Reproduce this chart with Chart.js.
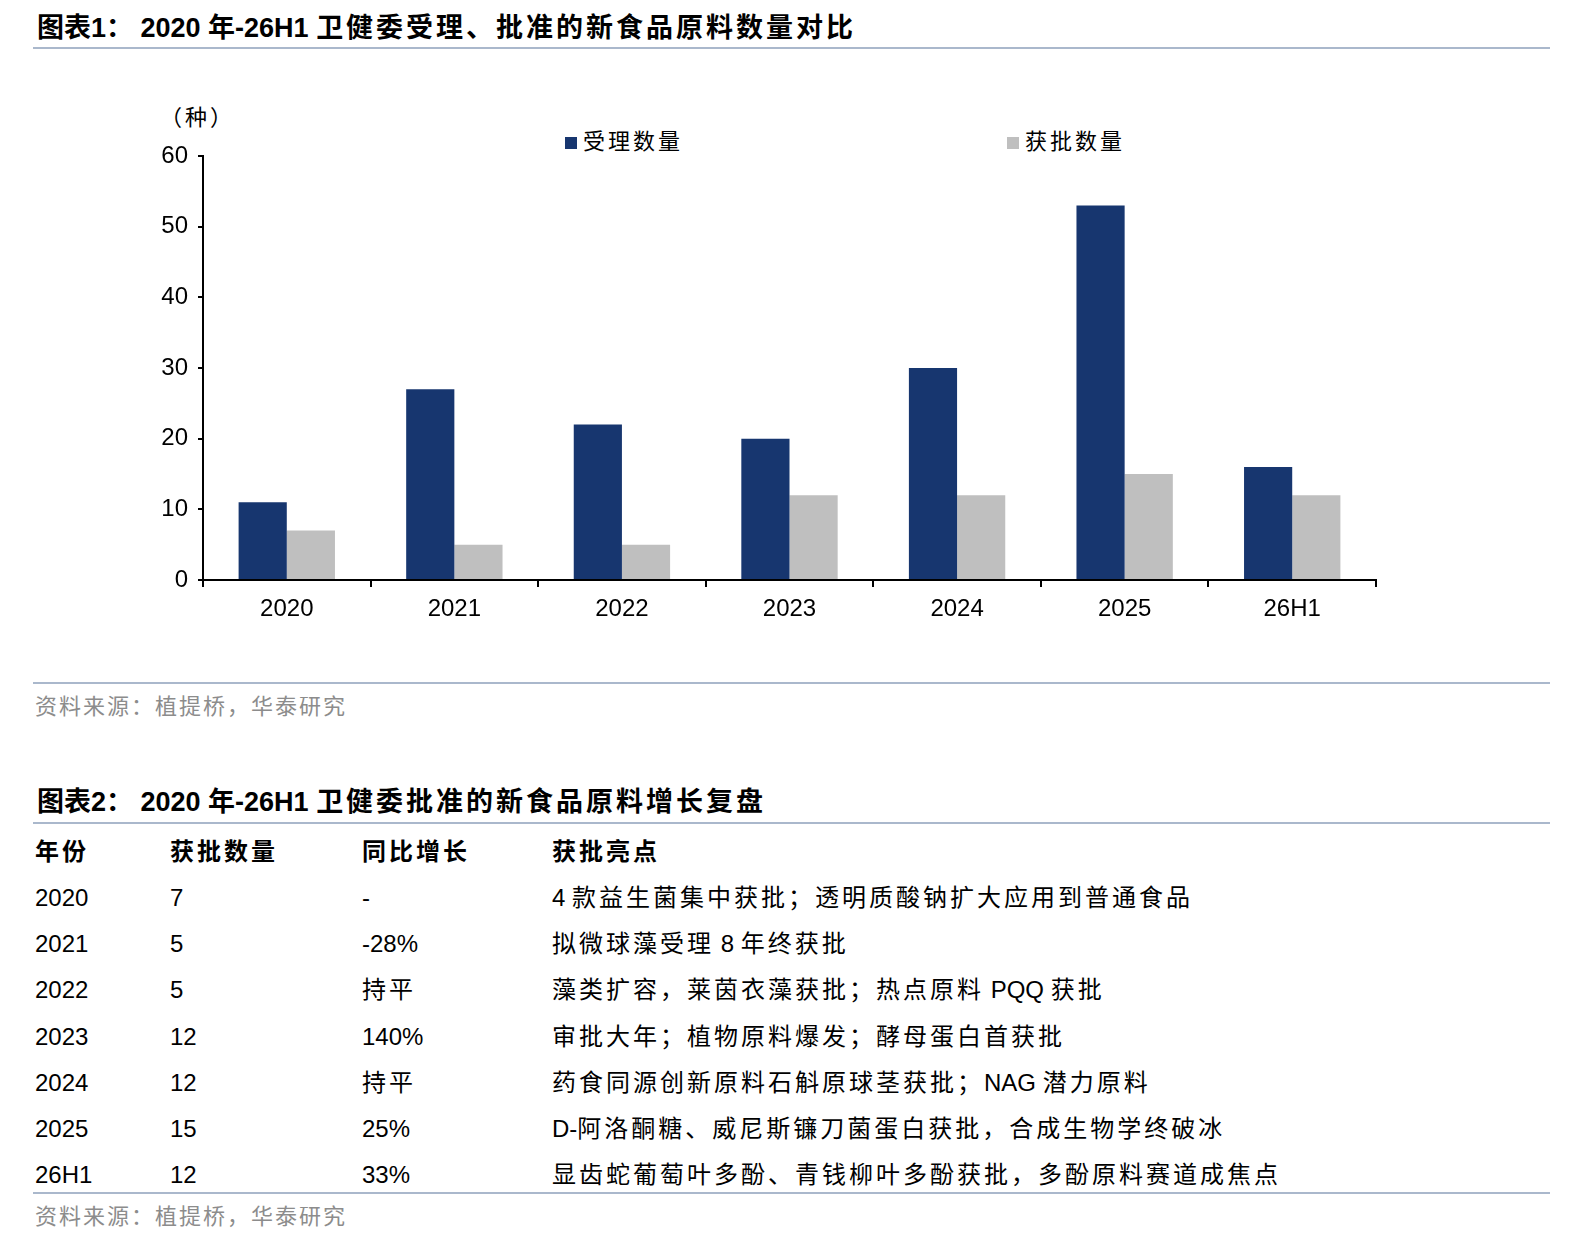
<!DOCTYPE html>
<html><head><meta charset="utf-8">
<script src="https://cdn.jsdelivr.net/npm/chart.js@4"></script>
<style>
html,body{margin:0;background:#fff;overflow:hidden;width:1586px;height:1250px;}
body{font-family:"Liberation Sans","Noto Sans CJK SC",sans-serif;color:#000;}
.abs{position:absolute;white-space:nowrap;line-height:30px;}
.title{font-size:27px;font-weight:bold;left:37px;}
.rule{position:absolute;left:33px;width:1517px;height:0;border-top:2px solid #aab8cc;}
.src{font-size:22px;color:#8c8c8c;left:35px;letter-spacing:2px;}
.cell{font-size:24px;}
.hd{font-size:24px;font-weight:bold;}
.zh{letter-spacing:3px;}
</style></head><body>
<div class="abs title" style="top:13px">图表1：&nbsp;2020 年-26H1 <span class="zh">卫健委受理、批准的新食品原料数量对比</span></div>
<div class="rule" style="top:47px"></div>
<div class="abs zh" style="left:160px;top:103px;font-size:22px">（种）</div>
<div class="abs zh" style="left:565px;top:127px;font-size:22px"><span style="display:inline-block;width:12px;height:12px;background:#17366f;margin-right:6px"></span>受理数量</div>
<div class="abs zh" style="left:1007px;top:127px;font-size:22px"><span style="display:inline-block;width:12px;height:12px;background:#bfbfbf;margin-right:6px"></span>获批数量</div>
<div style="position:absolute;left:100px;top:100px;width:1300px;height:560px"><canvas id="c"></canvas></div>
<div class="rule" style="top:682px"></div>
<div class="abs src" style="top:692px">资料来源：植提桥，华泰研究</div>

<div class="abs title" style="top:787px">图表2：&nbsp;2020 年-26H1 <span class="zh">卫健委批准的新食品原料增长复盘</span></div>
<div class="rule" style="top:822px"></div>
<div id="tbl"></div>
<div class="rule" style="top:1192px"></div>
<div class="abs src" style="top:1202px">资料来源：植提桥，华泰研究</div>
<script>
const years = ['2020','2021','2022','2023','2024','2025','26H1'];
const accepted = [11,27,22,20,30,53,16];
const approved = [7,5,5,12,12,15,12];
const growth = ['-','-28%','持平','140%','持平','25%','33%'];
const highlights = [
  '4 款益生菌集中获批；透明质酸钠扩大应用到普通食品',
  '拟微球藻受理 8 年终获批',
  '藻类扩容，莱茵衣藻获批；热点原料 PQQ 获批',
  '审批大年；植物原料爆发；酵母蛋白首获批',
  '药食同源创新原料石斛原球茎获批；NAG 潜力原料',
  'D-阿洛酮糖、威尼斯镰刀菌蛋白获批，合成生物学终破冰',
  '显齿蛇葡萄叶多酚、青钱柳叶多酚获批，多酚原料赛道成焦点'
];
const headers = ['年份','获批数量','同比增长','获批亮点'];
const colX = [35,170,362,552];

// wrap CJK runs in spaced spans, keep latin/digits tight
const fmt = v => String(v).replace(/([\u3000-\u9fff\uff00-\uffef]+)/g, '<span class="zh">$1</span>');

let html = '';
headers.forEach((h,i)=>{ html += `<div class="abs hd zh" style="left:${colX[i]}px;top:837px">${h}</div>`; });
years.forEach((y,r)=>{
  const top = 883 + r*46.2;
  [y, approved[r], growth[r], highlights[r]].forEach((v,i)=>{
    html += `<div class="abs cell" style="left:${colX[i]}px;top:${top}px">${fmt(v)}</div>`;
  });
});
document.getElementById('tbl').innerHTML = html;

new Chart(document.getElementById('c'), {
  type: 'bar',
  data: {
    labels: years,
    datasets: [
      {label:'受理数量', data: accepted, backgroundColor:'#17366f', categoryPercentage:0.575, barPercentage:1},
      {label:'获批数量', data: approved, backgroundColor:'#bfbfbf', categoryPercentage:0.575, barPercentage:1}
    ]
  },
  options: {
    responsive: true,
    maintainAspectRatio: false,
    animation: false,
    layout: {padding: {top:56, right:24, bottom:20, left:0}},
    plugins: {legend:{display:false}, tooltip:{enabled:false}},
    scales: {
      x: {
        grid: {offset:true, drawOnChartArea:false, drawTicks:true, tickLength:7, color:'#000', lineWidth:2},
        border: {color:'#000', width:2},
        ticks: {color:'#000', font:{size:24, family:'Liberation Sans'}, padding:8},
        afterFit: s => { s.height = 60; }
      },
      y: {
        min:0, max:60,
        ticks: {stepSize:10, color:'#000', font:{size:24, family:'Liberation Sans'}, padding:10},
        grid: {drawOnChartArea:false, drawTicks:true, tickLength:5, color:'#000', lineWidth:2},
        border: {color:'#000', width:2},
        afterFit: s => { s.width = 103; }
      }
    }
  }
});
</script>
</body></html>
